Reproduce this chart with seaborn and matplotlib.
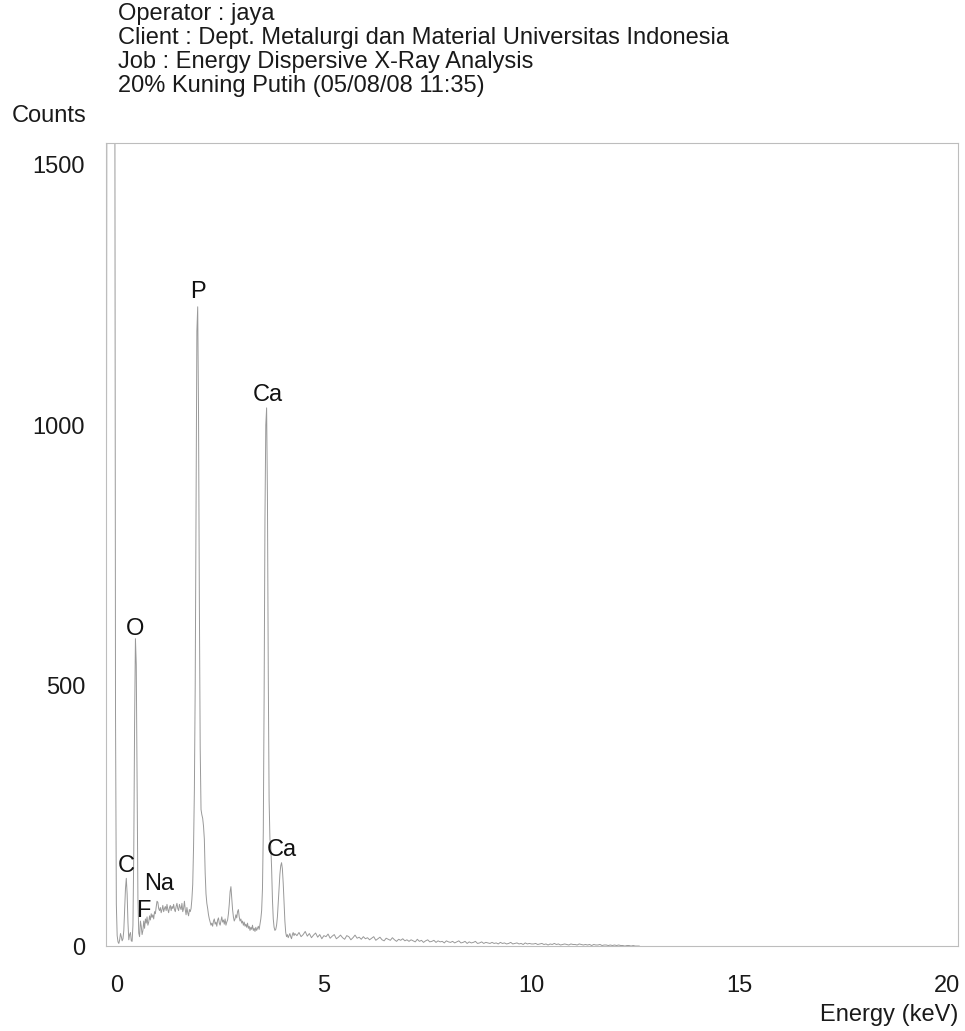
import numpy as np
import pandas as pd
import matplotlib
matplotlib.use("Agg")
import matplotlib.pyplot as plt
from matplotlib.ticker import MultipleLocator
import seaborn as sns

# ---- report header -------------------------------------------------------
header_lines = [
    "Operator : jaya",
    "Client : Dept. Metalurgi dan Material Universitas Indonesia",
    "Job : Energy Dispersive X-Ray Analysis",
    "20% Kuning Putih (05/08/08 11:35)",
]
y_title = "Counts"
x_title = "Energy (keV)"

# ---- spectrum ------------------------------------------------------------
# counts in 0.02 keV channels starting at -0.24 keV
counts_fine = [
    600, 2600, 4000, 4200, 4300, 4300, 4200, 4100, 3900, 3400, 2000, 450,
    80, 20, 8, 5, 12, 24, 18, 10, 14, 30, 70, 110, 130, 100, 45, 12, 22, 26,
    10, 9, 40, 180, 430, 590, 540, 300, 90, 25, 18, 48, 38, 22, 30, 48, 34,
    52, 44, 56, 40, 46, 58, 50, 62, 55, 60, 52, 66, 62, 75, 86, 84, 72, 68,
    74, 64, 70, 78, 66, 72, 76, 68, 80, 70, 64, 74, 78, 68, 76, 72, 80, 70,
    66, 76, 82, 72, 68, 80, 74, 70, 82, 66, 72, 86, 70, 60, 74, 64, 58, 70,
    66, 72, 90, 118, 190, 300, 500, 860, 1180, 1227, 1020, 660, 380, 262,
    252, 245, 230, 205, 140, 100, 82, 72, 60, 52, 46, 40, 44, 38, 48, 52, 42,
    46, 38, 50, 54, 44, 40, 48, 56, 46, 50, 42, 52, 40, 46, 50, 62, 80, 104,
    114, 92, 70, 56, 48, 52, 60, 54, 66, 70, 56, 48, 52, 44, 48, 40, 46, 38,
    42, 36, 44, 34, 38, 30, 36, 32, 40, 30, 34, 28, 36, 30, 34, 38, 32, 42,
    52, 68, 110, 220, 480, 820, 1000, 1033, 860, 520, 280, 205, 192, 150, 90,
    52, 36, 30, 32, 40, 56, 84, 112, 138, 154, 160, 148, 120, 82, 48, 26, 18,
    22, 16, 20, 24, 18, 14, 22, 26, 20, 24,
]
# counts in 0.05 keV channels starting at 4.35 keV
counts_coarse = [
    20, 26, 18, 22, 28, 19, 24, 16, 21, 25, 17, 22, 14, 20,
    18, 23, 15, 19, 22, 14, 17, 21, 16, 13, 20, 18, 12, 16, 21, 15, 17, 13, 18, 14,
    16, 12, 15, 18, 11, 14, 17, 12, 10, 15, 13, 11, 16, 12, 9, 13, 11, 14, 10, 12,
    9, 12, 10, 8, 13, 9, 11, 7, 10, 12, 8, 9, 11, 7, 10, 8, 9, 6, 10, 8,
    7, 9, 6, 8, 10, 6, 7, 9, 5, 8, 6, 7, 9, 5, 6, 8, 5, 7, 6, 5,
    7, 5, 6, 4, 7, 5, 6, 4, 5, 7, 4, 5, 6, 4, 5, 3, 6, 4, 5, 4,
    4, 5, 3, 4, 5, 3, 4, 2, 4, 3, 5, 3, 4, 2, 3, 4, 3, 2, 4, 3,
    3, 2, 4, 3, 2, 3, 2, 3, 1, 3, 2, 2, 3, 1, 2, 2, 1, 2, 1, 2,
    1, 2, 1, 1, 0, 1, 1, 0, 1, 0, 0, 0,
]

# identified lines: element, energy (keV), counts at the labelled maximum
peak_names = ["C", "O", "F", "Na", "P", "Ca", "Ca"]
peak_energy = [0.24, 0.46, 0.64, 1.00, 1.96, 3.62, 3.98]
peak_counts = [130, 590, 30, 84, 1227, 1033, 160]

x_ticks = [0, 5, 10, 15, 20]
y_ticks = [0, 500, 1000, 1500]

# ---- assemble ------------------------------------------------------------
energy = np.concatenate([
    np.round(-0.24 + 0.02 * np.arange(len(counts_fine)), 2),
    np.round(4.35 + 0.05 * np.arange(len(counts_coarse)), 2),
])
spectrum = pd.DataFrame({"Energy": energy, "Counts": counts_fine + counts_coarse})

sns.set_style("white")
plt.rcParams["font.family"] = ["Liberation Sans", "DejaVu Sans"]

fig = plt.figure(figsize=(9.65, 10.31), dpi=100)
ax = fig.add_axes([0.1098, 0.0824, 0.8832, 0.7792])

sns.lineplot(data=spectrum, x="Energy", y="Counts", ax=ax, color="#999999",
             linewidth=0.7, estimator=None, sort=False)

ax.set_xlim(-0.25, 20.28)
ax.set_ylim(0, 1542)
ax.set_xlabel("")
ax.set_ylabel("")

ax.set_xticks(x_ticks)
ax.set_yticks(y_ticks)
ax.xaxis.set_minor_locator(MultipleLocator(1))
ax.yaxis.set_minor_locator(MultipleLocator(100))
ax.tick_params(axis="both", which="both", direction="out", colors="#9a9a9a",
               labelcolor="#1a1a1a", labelsize=17, width=0.8)
ax.tick_params(axis="x", which="major", length=17, pad=4)
ax.tick_params(axis="x", which="minor", length=6)
ax.tick_params(axis="y", which="major", length=15, pad=0)
ax.tick_params(axis="y", which="minor", length=4.5)

for side in ("left", "right", "top", "bottom"):
    ax.spines[side].set_visible(True)
    ax.spines[side].set_color("#bdbdbd")
    ax.spines[side].set_linewidth(0.8)

# element labels above their lines (offsets in points)
label_offsets = {0: (0, 9), 1: (0, 7), 2: (0, 14), 3: (1, 13),
                 4: (0, 11), 5: (1, 9), 6: (0, 9)}
for i, (name, e, c) in enumerate(zip(peak_names, peak_energy, peak_counts)):
    dx, dy = label_offsets[i]
    ax.annotate(name, xy=(e, c), xytext=(dx, dy), textcoords="offset points",
                ha="center", va="center", fontsize=17, color="#111111")

# header block and axis titles
for k, line in enumerate(header_lines):
    fig.text(118 / 965, 1 - (14 + 24 * k) / 1031, line, ha="left", va="center",
             fontsize=17, color="#1a1a1a")
fig.text(12 / 965, 1 - 116 / 1031, y_title, ha="left", va="center",
         fontsize=17, color="#1a1a1a")
fig.text(958 / 965, 1 - 1015 / 1031, x_title, ha="right", va="center",
         fontsize=17, color="#1a1a1a")

fig.savefig("out.png", dpi=100, facecolor="white")
